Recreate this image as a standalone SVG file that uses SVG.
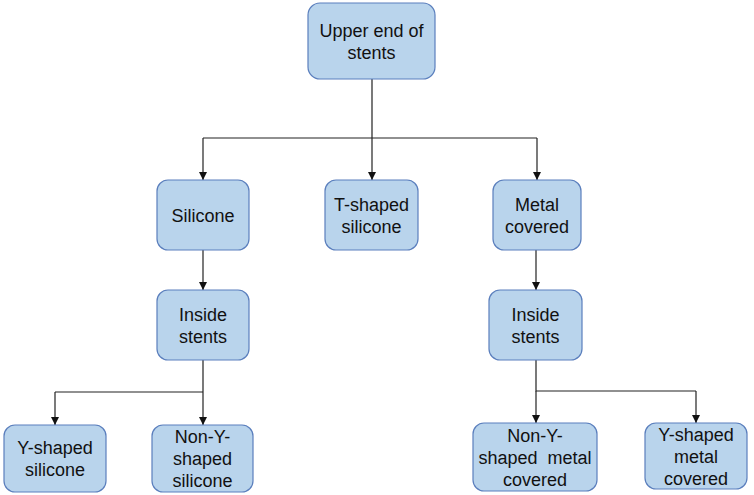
<svg xmlns="http://www.w3.org/2000/svg" width="754" height="495" viewBox="0 0 754 495">
<defs>
<marker id="arr" viewBox="0 0 10 10" refX="10" refY="5" markerWidth="8" markerHeight="8" markerUnits="userSpaceOnUse" orient="auto">
<path d="M0,0 L10,5 L0,10 z" fill="#111"/>
</marker>
<style>
.box{fill:#b9d4ec;stroke:#5b7fbd;stroke-width:1.2}
.t{font-family:"Liberation Sans",Arial,sans-serif;font-size:18px;fill:#111;text-anchor:middle}
.c{fill:none;stroke:#222;stroke-width:1.2;marker-end:url(#arr)}
.l{fill:none;stroke:#222;stroke-width:1.2}
</style>
</defs>
<rect width="754" height="495" fill="#fff"/>
<g id="connectors">
<path class="l" d="M372,79 V138 M203,138 H537"/>
<path class="c" d="M203,138 V180"/>
<path class="c" d="M372,138 V180"/>
<path class="c" d="M537,138 V180"/>
<path class="c" d="M203,250 V290"/>
<path class="c" d="M536,250 V290"/>
<path class="l" d="M203,360 V392 M55,392 H203"/>
<path class="c" d="M55,392 V425"/>
<path class="c" d="M203,392 V425"/>
<path class="l" d="M536,360 V391 H696"/>
<path class="c" d="M536,391 V423"/>
<path class="c" d="M696,391 V423"/>
</g>
<g id="n_upper">
<rect class="box" x="308" y="3" width="127" height="76" rx="12"/>
<text class="t" x="371.5" y="37">Upper end of</text>
<text class="t" x="371.5" y="59">stents</text>
</g>
<g id="n_silicone">
<rect class="box" x="157" y="180" width="92" height="70" rx="11"/>
<text class="t" x="203" y="221.5">Silicone</text>
</g>
<g id="n_tshaped">
<rect class="box" x="325" y="180" width="93" height="70" rx="11"/>
<text class="t" x="371.5" y="210.5">T-shaped</text>
<text class="t" x="371.5" y="232.5">silicone</text>
</g>
<g id="n_metal">
<rect class="box" x="493" y="180" width="88" height="70" rx="11"/>
<text class="t" x="537" y="210.5">Metal</text>
<text class="t" x="537" y="232.5">covered</text>
</g>
<g id="n_inside_left">
<rect class="box" x="157" y="290" width="92" height="70" rx="11"/>
<text class="t" x="203" y="320.5">Inside</text>
<text class="t" x="203" y="342.5">stents</text>
</g>
<g id="n_inside_right">
<rect class="box" x="489" y="290" width="93" height="70" rx="11"/>
<text class="t" x="535.5" y="320.5">Inside</text>
<text class="t" x="535.5" y="342.5">stents</text>
</g>
<g id="n_y_silicone">
<rect class="box" x="4" y="425" width="102" height="67" rx="11"/>
<text class="t" x="55" y="453.5">Y-shaped</text>
<text class="t" x="55" y="475.5">silicone</text>
</g>
<g id="n_nony_silicone">
<rect class="box" x="152" y="425" width="101" height="67" rx="11"/>
<text class="t" x="202.5" y="443">Non-Y-</text>
<text class="t" x="202.5" y="465">shaped</text>
<text class="t" x="202.5" y="487">silicone</text>
</g>
<g id="n_nony_metal">
<rect class="box" x="473" y="423" width="124" height="68" rx="11"/>
<text class="t" x="535" y="441.5">Non-Y-</text>
<text class="t" x="535" y="463.5" xml:space="preserve">shaped  metal</text>
<text class="t" x="535" y="485.5">covered</text>
</g>
<g id="n_y_metal">
<rect class="box" x="645" y="423" width="102" height="66" rx="11"/>
<text class="t" x="696" y="440.5">Y-shaped</text>
<text class="t" x="696" y="462.5">metal</text>
<text class="t" x="696" y="484.5">covered</text>
</g>
</svg>
